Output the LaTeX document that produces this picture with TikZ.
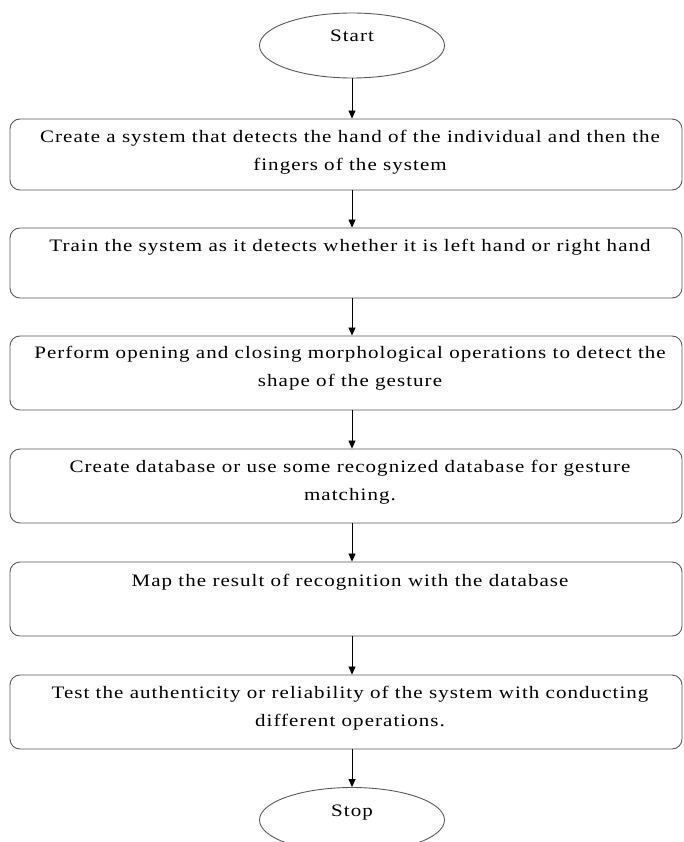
\documentclass[tikz,border=0pt]{standalone}
\usepackage{fontspec}
\setmainfont{Liberation Serif}[FakeStretch=1.2,LetterSpace=6]
\usetikzlibrary{positioning,arrows.meta,shapes.geometric}

\begin{document}
\begin{tikzpicture}[
    x=1pt, y=-1pt,
    >={Triangle[length=8pt,width=7pt]},
    every node/.style={font=\fontsize{17.5}{28}\selectfont},
    stepbox/.style={draw=black!65, line width=0.9pt, rounded corners=10pt,
        minimum width=672pt, minimum height=74pt, inner sep=0pt},
    steptext/.style={inner sep=0pt, align=center},
    terminal/.style={ellipse, draw=black!65, line width=0.9pt,
        minimum width=185pt, minimum height=65pt,
        text height=11pt, text depth=18pt},
    flow/.style={->, draw=black, line width=0.8pt}
]
\useasboundingbox (0,0) rectangle (683,842);
\clip (0,0) rectangle (683,842);

% ---------------- Terminals ----------------
\node[terminal] (st) at (352,45.5) {Start};
\node[terminal] (sp) at (352,820) {Stop};

% ---------------- Steps ----------------
\node[stepbox, minimum height=71pt] (b1) at (346,154.5) {};
\node[stepbox, minimum height=70pt] (b2) at (346,263) {};
\node[stepbox] (b3) at (346,373) {};
\node[stepbox] (b4) at (346,486) {};
\node[stepbox] (b5) at (346,599) {};
\node[stepbox] (b6) at (346,712) {};

\node[steptext, below=11pt of b1.north, xshift=4pt] (t1)
    {Create a system that detects the hand of the individual and then the\\
     fingers of the system};
\node[steptext, below=11pt of b2.north, xshift=4pt] (t2)
    {Train the system as it detects whether it is left hand or right hand};
\node[steptext, below=10pt of b3.north, xshift=4pt] (t3)
    {Perform opening and closing morphological operations to detect the\\
     shape of the gesture};
\node[steptext, below=11pt of b4.north, xshift=4pt] (t4)
    {Create database or use some recognized database for gesture\\
     matching.};
\node[steptext, below=12pt of b5.north, xshift=4pt] (t5)
    {Map the result of recognition with the database};
\node[steptext, below=11pt of b6.north, xshift=4pt] (t6)
    {Test the authenticity or reliability of the system with conducting\\
     different operations.};

% ---------------- Arrows ----------------
\draw[flow] (st) -- (b1.north -| st);
\draw[flow] (b1.south -| st) -- (b2.north -| st);
\draw[flow] (b2.south -| st) -- (b3.north -| st);
\draw[flow] (b3.south -| st) -- (b4.north -| st);
\draw[flow] (b4.south -| st) -- (b5.north -| st);
\draw[flow] (b5.south -| st) -- (b6.north -| st);
\draw[flow] (b6.south -| sp) -- (sp);

\end{tikzpicture}
\end{document}
